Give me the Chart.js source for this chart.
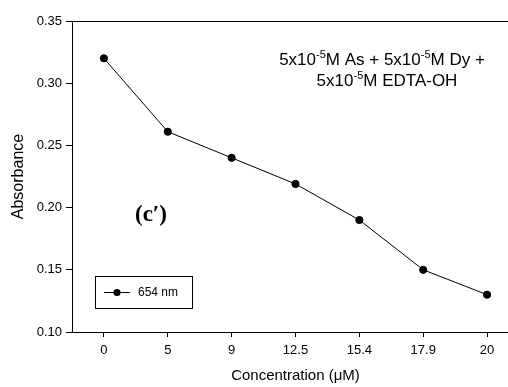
<!DOCTYPE html>
<html>
<head>
<meta charset="utf-8">
<script src="https://cdn.jsdelivr.net/npm/chart.js@4.4.1/dist/chart.umd.min.js"></script>
<style>
  html, body { margin: 0; padding: 0; background: #fff; overflow: hidden; }
  #wrap { width: 508px; height: 387px; overflow: hidden; }
</style>
</head>
<body>
<div id="wrap"><canvas id="absChart" width="530" height="387"></canvas></div>
<script>
// Absorbance at 654 nm vs. concentration
const concLabels = ['0', '5', '9', '12.5', '15.4', '17.9', '20'];
const absorbance654 = [0.320, 0.261, 0.240, 0.219, 0.190, 0.150, 0.130];
const yTicks = [0.10, 0.15, 0.20, 0.25, 0.30, 0.35];

const FONT = "'Liberation Sans', Arial, sans-serif";

// draws the text with superscript parts, centred on cx
function drawSupLine(ctx, parts, cx, y, size) {
    const supSize = Math.round(size * 0.62);
    let total = 0;
    parts.forEach(p => {
        ctx.font = (p.sup ? supSize : size) + 'px ' + FONT;
        p.w = ctx.measureText(p.t).width;
        total += p.w;
    });
    let x = cx - total / 2;
    ctx.textAlign = 'left';
    ctx.textBaseline = 'alphabetic';
    parts.forEach(p => {
        ctx.font = (p.sup ? supSize : size) + 'px ' + FONT;
        ctx.fillText(p.t, x, p.sup ? y - size * 0.42 : y);
        x += p.w;
    });
}

const extras = {
    id: 'extras',
    afterDraw(chart) {
        const ctx = chart.ctx;
        const area = chart.chartArea;
        ctx.save();
        ctx.strokeStyle = '#000';
        ctx.lineWidth = 1;

        // top frame line
        ctx.beginPath();
        ctx.moveTo(area.left, Math.round(area.top) + 0.5);
        ctx.lineTo(area.right, Math.round(area.top) + 0.5);
        ctx.stroke();

        ctx.fillStyle = '#000';
        drawSupLine(ctx, [
            {t: '5x10'}, {t: '-5', sup: true}, {t: 'M As + 5x10'}, {t: '-5', sup: true}, {t: 'M Dy +'}
        ], 382, 65, 17);
        drawSupLine(ctx, [
            {t: '5x10'}, {t: '-5', sup: true}, {t: 'M EDTA-OH'}
        ], 387, 86, 17);

        // panel tag
        ctx.font = "bold 23px 'Liberation Serif', 'Times New Roman', serif";
        ctx.textAlign = 'center';
        ctx.textBaseline = 'middle';
        ctx.fillText('(c\u2032)', 151, 215);

        // legend box
        const ds = chart.data.datasets[0];
        ctx.strokeRect(95.5, 276.5, 97, 32);
        ctx.beginPath();
        ctx.moveTo(104, 292.5);
        ctx.lineTo(130, 292.5);
        ctx.stroke();
        ctx.beginPath();
        ctx.arc(117, 292.5, ds.pointRadius, 0, Math.PI * 2);
        ctx.fill();
        ctx.font = '12px ' + FONT;
        ctx.textAlign = 'left';
        ctx.textBaseline = 'middle';
        ctx.fillText(ds.label, 138, 293);
        ctx.restore();
    }
};

const ctx = document.getElementById('absChart').getContext('2d');
new Chart(ctx, {
    type: 'line',
    data: {
        labels: concLabels,
        datasets: [{
            label: '654 nm',
            data: absorbance654,
            borderColor: '#000',
            borderWidth: 1,
            backgroundColor: '#000',
            pointBackgroundColor: '#000',
            pointBorderColor: '#000',
            pointRadius: 3.6,
            tension: 0
        }]
    },
    options: {
        responsive: false,
        animation: false,
        devicePixelRatio: 1,
        layout: { padding: { left: 9, right: 11, top: 21, bottom: 2 } },
        plugins: { legend: { display: false }, tooltip: { enabled: false } },
        scales: {
            x: {
                type: 'category',
                offset: true,
                grid: { display: true, drawOnChartArea: false, drawTicks: true, tickLength: 5, color: '#000', offset: false },
                border: { display: true, color: '#000', width: 1 },
                ticks: { color: '#000', font: { family: FONT, size: 13 }, padding: 6, maxRotation: 0 },
                title: { display: true, text: 'Concentration (\u03bcM)', color: '#000', font: { family: FONT, size: 15 }, padding: 0 },
                afterFit(scale) { scale.height = 53; }
            },
            y: {
                min: 0.10,
                max: 0.35,
                afterBuildTicks(scale) { scale.ticks = yTicks.map(v => ({ value: v })); },
                grid: { display: true, drawOnChartArea: false, drawTicks: true, tickLength: 6, color: '#000' },
                border: { display: true, color: '#000', width: 1 },
                ticks: { color: '#000', font: { family: FONT, size: 13 }, padding: 4, callback: v => v.toFixed(2) },
                title: { display: true, text: 'Absorbance', color: '#000', font: { family: FONT, size: 16 }, padding: 0 },
                afterFit(scale) { scale.width = 63; }
            }
        }
    },
    plugins: [extras]
});
</script>
</body>
</html>
